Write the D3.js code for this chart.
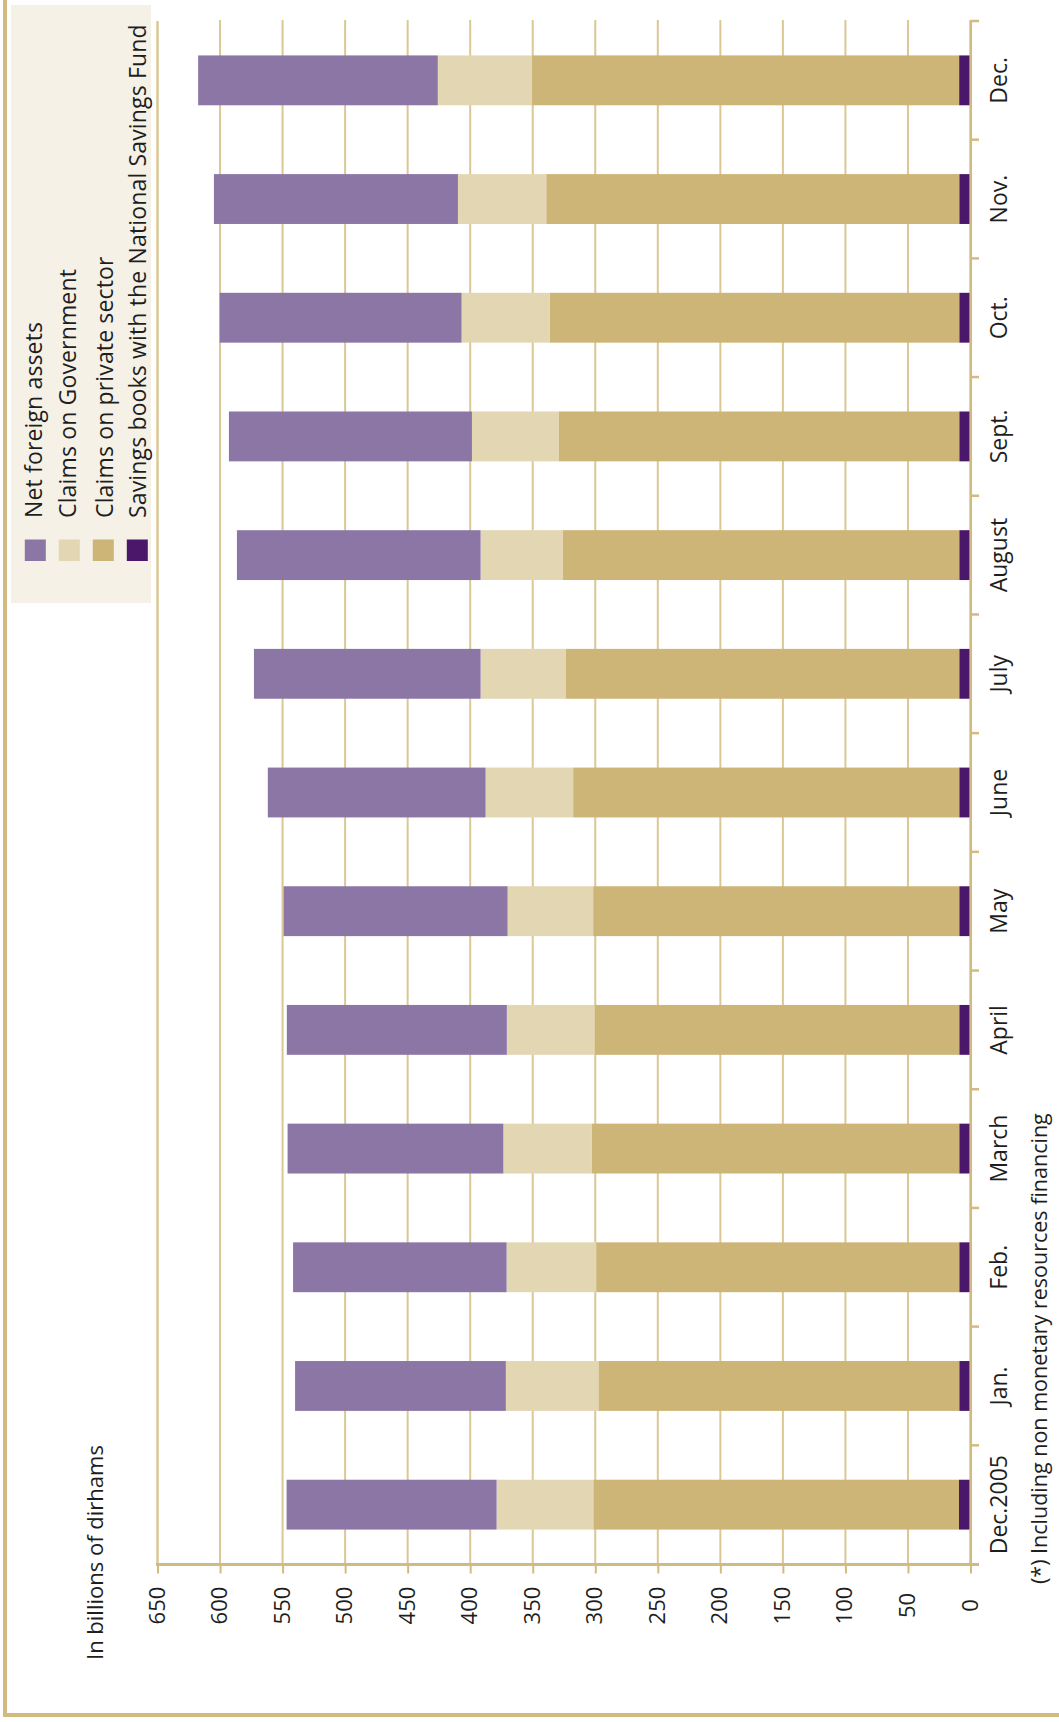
<!DOCTYPE html>
<html>
<head>
<meta charset="utf-8">
<script src="https://cdn.jsdelivr.net/npm/d3@7"></script>
<style>
  html, body { margin: 0; padding: 0; background: #fff; }
  svg { display: block; font-family: "Open Sans", "DejaVu Sans", sans-serif; }
</style>
</head>
<body>
<svg id="chart" width="1059" height="1722"></svg>
<script>
// Monetary counterparts, in billions of dirhams
const categories = ["Dec.2005", "Jan.", "Feb.", "March", "April", "May", "June",
                    "July", "August", "Sept.", "Oct.", "Nov.", "Dec."];
const netForeignAssets      = [167.9, 168.5, 170.7, 172.5, 175.9, 179.1, 174.1, 181.2, 194.8, 194.3, 193.4, 195.1, 191.6];
const claimsOnGovernment    = [77.3, 74.0, 71.6, 70.5, 70.1, 68.4, 70.0, 67.9, 65.5, 69.2, 70.6, 70.6, 75.4];
const claimsOnPrivateSector = [292.4, 288.5, 290.3, 294.0, 291.6, 292.7, 308.7, 314.8, 317.2, 320.4, 327.3, 330.2, 341.4];
const savingsBooks          = [9.2, 9.0, 9.0, 9.0, 9.0, 9.0, 9.0, 9.0, 9.0, 9.0, 9.0, 9.0, 9.1];
const valueTicks = [0, 50, 100, 150, 200, 250, 300, 350, 400, 450, 500, 550, 600, 650];

const seriesNames = ["Net foreign assets", "Claims on Government",
                     "Claims on private sector", "Savings books with the National Savings Fund"];
const seriesKeys = ["foreign", "government", "private", "savings"];
const colors = {
  foreign: "#8b76a6",
  government: "#e3d6b2",
  private: "#cdb477",
  savings: "#4b176b"
};
const gold = "#d2bb80";
const gridColor = "#dac894";
const textColor = "#1e1e1e";

const rows = categories.map((c, i) => ({
  category: c,
  savings: savingsBooks[i],
  private: claimsOnPrivateSector[i],
  government: claimsOnGovernment[i],
  foreign: netForeignAssets[i]
}));

const svg = d3.select("#chart");

// value scale runs right-to-left, categories bottom-to-top
const x = d3.scaleLinear().domain([0, 650]).range([970.5, 157.5]);
const yBand = d3.scaleBand().domain(categories).range([1564, 21]).padding(0);
const yBar = d3.scaleBand().domain(categories).range([1564, 21])
  .paddingInner(0.58).paddingOuter(0.29);
const axisY = 1564.5;

// outer frame (left and bottom rules)
svg.append("line").attr("x1", 5).attr("x2", 5).attr("y1", 0).attr("y2", 1715)
  .attr("stroke", gold).attr("stroke-width", 4);
svg.append("line").attr("x1", 3).attr("x2", 1059).attr("y1", 1715).attr("y2", 1715)
  .attr("stroke", gold).attr("stroke-width", 4);

// legend panel
svg.append("rect").attr("x", 11).attr("y", 5).attr("width", 140).attr("height", 598)
  .attr("fill", "#f5f1e6");

// vertical gridlines
svg.append("g").selectAll("line")
  .data(valueTicks.filter(v => v > 0))
  .join("line")
  .attr("x1", d => x(d)).attr("x2", d => x(d))
  .attr("y1", d => d === 650 ? 21 : 20).attr("y2", axisY)
  .attr("stroke", gridColor)
  .attr("stroke-width", d => d === 650 ? 2.5 : 2);

// stacked bars
const stack = d3.stack().keys(["savings", "private", "government", "foreign"]);
const layers = stack(rows);
svg.append("g").selectAll("g")
  .data(layers)
  .join("g")
  .attr("fill", d => colors[d.key])
  .selectAll("rect")
  .data(d => d)
  .join("rect")
  .attr("x", d => x(d[1]))
  .attr("width", d => x(d[0]) - x(d[1]))
  .attr("y", d => yBar(d.data.category))
  .attr("height", yBar.bandwidth());

// value axis along the bottom
const xAxis = d3.axisBottom(x).tickValues(valueTicks).tickSize(9).tickSizeOuter(0)
  .tickFormat(d3.format("d"));
const gx = svg.append("g").attr("transform", `translate(0,${axisY})`).call(xAxis);
gx.select(".domain").remove();
gx.append("line").attr("x1", 156).attr("x2", 979).attr("y1", 0).attr("y2", 0)
  .attr("stroke", gold).attr("stroke-width", 3.2);
gx.selectAll(".tick line").attr("stroke", gold).attr("stroke-width", 2);
gx.selectAll(".tick text")
  .attr("fill", textColor)
  .attr("font-size", 22)
  .attr("font-family", "Open Sans, sans-serif")
  .attr("text-anchor", "middle")
  .attr("y", null).attr("dy", null)
  .attr("transform", "translate(6.5,41) rotate(-90)");

// category axis at zero, ticks on band boundaries
const catAxisX = 970.7;
const gy = svg.append("g");
gy.append("line").attr("x1", catAxisX).attr("x2", catAxisX).attr("y1", 20).attr("y2", axisY + 1.5)
  .attr("stroke", gold).attr("stroke-width", 2.7);
gy.selectAll("line.tick")
  .data(categories)
  .join("line")
  .attr("class", "tick")
  .attr("x1", catAxisX).attr("x2", 979)
  .attr("y1", d => yBand(d)).attr("y2", d => yBand(d))
  .attr("stroke", gold).attr("stroke-width", 2.5);
gy.selectAll("text")
  .data(categories)
  .join("text")
  .attr("transform", d => `translate(1007,${yBand(d) + yBand.bandwidth() / 2}) rotate(-90)`)
  .attr("text-anchor", "middle")
  .attr("font-size", 23)
  .attr("fill", textColor)
  .text(d => d);

// unit label
svg.append("text")
  .attr("transform", "translate(103,1660) rotate(-90)")
  .attr("font-size", 22)
  .attr("fill", textColor)
  .text("In billions of dirhams");

// footnote
svg.append("text")
  .attr("transform", "translate(1047,1584) rotate(-90)")
  .attr("font-size", 21.5)
  .attr("fill", textColor)
  .text("(*) Including non monetary resources financing");

// legend: swatch columns and their label baselines
const swatchX = [35.3, 69.3, 103.3, 137.3];
const labelX = [42, 76, 113, 146];
const legend = svg.append("g").selectAll("g")
  .data(seriesKeys)
  .join("g");
legend.append("rect")
  .attr("x", (d, i) => swatchX[i] - 10.5).attr("y", 539.5).attr("width", 21).attr("height", 21.5)
  .attr("fill", d => colors[d]);
legend.append("text")
  .attr("transform", (d, i) => `translate(${labelX[i]},518) rotate(-90)`)
  .attr("font-size", 23)
  .attr("letter-spacing", 0.15)
  .attr("fill", textColor)
  .text((d, i) => seriesNames[i]);
</script>
</body>
</html>
